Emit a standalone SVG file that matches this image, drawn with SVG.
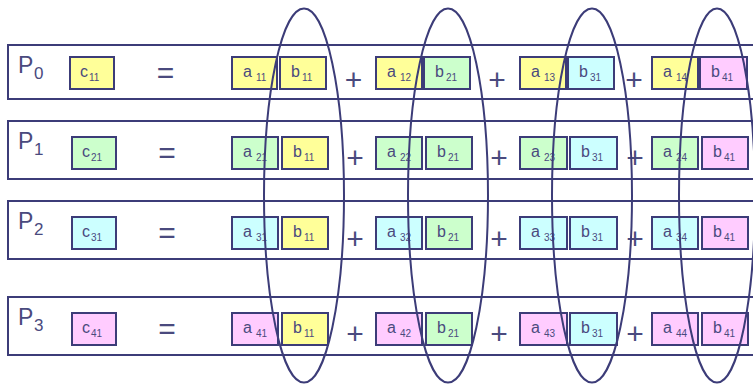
<svg xmlns="http://www.w3.org/2000/svg" width="753" height="384" viewBox="0 0 753 384">
<style>
.row{fill:#fff;stroke:#3c3c78;stroke-width:2}
.bx{stroke:#3c3c78;stroke-width:2}
.y{fill:#ffff99}.g{fill:#ccffcc}.c{fill:#ccffff}.p{fill:#ffccff}
text{font-family:"Liberation Sans",Arial,sans-serif;fill:#4a4a7e}
.pl{font-size:23px}.ps{font-size:17px}
.t{font-size:16px}.s{font-size:10px}
.op{font-size:30px;text-anchor:middle}
.ell{fill:none;stroke:#3c3c78;stroke-width:2}
</style>
<rect width="753" height="384" fill="#fff"/>
<g id="P0">
<rect class="row" x="8" y="45" width="760" height="54"/>
<text x="18" y="73"><tspan class="pl">P</tspan><tspan class="ps" x="34" y="79">0</tspan></text>
<rect class="bx y" x="70" y="57" width="44" height="32"/>
<text x="80" y="77"><tspan class="t">c</tspan><tspan class="s" x="89" y="81">11</tspan></text>
<text class="op" x="165.5" y="83">=</text>
<rect class="bx y" x="232" y="57" width="45" height="32"/><text x="243" y="77"><tspan class="t">a</tspan><tspan class="s" x="256" y="81">11</tspan></text>
<rect class="bx y" x="280" y="57" width="46" height="32"/><text x="291" y="77"><tspan class="t">b</tspan><tspan class="s" x="302" y="81">11</tspan></text>
<text class="op" x="353.5" y="90">+</text>
<rect class="bx y" x="376" y="57" width="46" height="32"/><text x="387" y="77"><tspan class="t">a</tspan><tspan class="s" x="400" y="81">12</tspan></text>
<rect class="bx g" x="424" y="57" width="46" height="32"/><text x="435" y="77"><tspan class="t">b</tspan><tspan class="s" x="446" y="81">21</tspan></text>
<text class="op" x="497" y="90">+</text>
<rect class="bx y" x="520" y="57" width="46" height="32"/><text x="531" y="77"><tspan class="t">a</tspan><tspan class="s" x="544" y="81">13</tspan></text>
<rect class="bx c" x="568" y="57" width="46" height="32"/><text x="579" y="77"><tspan class="t">b</tspan><tspan class="s" x="590" y="81">31</tspan></text>
<text class="op" x="634" y="90">+</text>
<rect class="bx y" x="652" y="57" width="46" height="32"/><text x="663" y="77"><tspan class="t">a</tspan><tspan class="s" x="676" y="81">14</tspan></text>
<rect class="bx p" x="700" y="57" width="47" height="32"/><text x="711" y="77"><tspan class="t">b</tspan><tspan class="s" x="722" y="81">41</tspan></text>
</g>
<g id="P1">
<rect class="row" x="8" y="121" width="760" height="58"/>
<text x="18" y="149"><tspan class="pl">P</tspan><tspan class="ps" x="34" y="155">1</tspan></text>
<rect class="bx g" x="72" y="137" width="44" height="32"/>
<text x="82" y="157"><tspan class="t">c</tspan><tspan class="s" x="91" y="161">21</tspan></text>
<text class="op" x="167" y="163">=</text>
<rect class="bx g" x="232" y="137" width="46" height="32"/><text x="243" y="157"><tspan class="t">a</tspan><tspan class="s" x="256" y="161">21</tspan></text>
<rect class="bx y" x="282" y="137" width="46" height="32"/><text x="293" y="157"><tspan class="t">b</tspan><tspan class="s" x="304" y="161">11</tspan></text>
<text class="op" x="355" y="168">+</text>
<rect class="bx g" x="376" y="137" width="46" height="32"/><text x="387" y="157"><tspan class="t">a</tspan><tspan class="s" x="400" y="161">22</tspan></text>
<rect class="bx g" x="426" y="137" width="46" height="32"/><text x="437" y="157"><tspan class="t">b</tspan><tspan class="s" x="448" y="161">21</tspan></text>
<text class="op" x="499" y="168">+</text>
<rect class="bx g" x="520" y="137" width="47" height="32"/><text x="531" y="157"><tspan class="t">a</tspan><tspan class="s" x="544" y="161">23</tspan></text>
<rect class="bx c" x="570" y="137" width="47" height="32"/><text x="581" y="157"><tspan class="t">b</tspan><tspan class="s" x="592" y="161">31</tspan></text>
<text class="op" x="635" y="168">+</text>
<rect class="bx g" x="652" y="137" width="46" height="32"/><text x="663" y="157"><tspan class="t">a</tspan><tspan class="s" x="676" y="161">24</tspan></text>
<rect class="bx p" x="702" y="137" width="46" height="32"/><text x="713" y="157"><tspan class="t">b</tspan><tspan class="s" x="724" y="161">41</tspan></text>
</g>
<g id="P2">
<rect class="row" x="8" y="201" width="760" height="58"/>
<text x="18" y="229"><tspan class="pl">P</tspan><tspan class="ps" x="34" y="235">2</tspan></text>
<rect class="bx c" x="72" y="217" width="44" height="32"/>
<text x="82" y="237"><tspan class="t">c</tspan><tspan class="s" x="91" y="241">31</tspan></text>
<text class="op" x="167" y="243">=</text>
<rect class="bx c" x="232" y="217" width="46" height="32"/><text x="243" y="237"><tspan class="t">a</tspan><tspan class="s" x="256" y="241">31</tspan></text>
<rect class="bx y" x="282" y="217" width="46" height="32"/><text x="293" y="237"><tspan class="t">b</tspan><tspan class="s" x="304" y="241">11</tspan></text>
<text class="op" x="355" y="249">+</text>
<rect class="bx c" x="376" y="217" width="46" height="32"/><text x="387" y="237"><tspan class="t">a</tspan><tspan class="s" x="400" y="241">32</tspan></text>
<rect class="bx g" x="426" y="217" width="46" height="32"/><text x="437" y="237"><tspan class="t">b</tspan><tspan class="s" x="448" y="241">21</tspan></text>
<text class="op" x="499" y="249">+</text>
<rect class="bx c" x="520" y="217" width="47" height="32"/><text x="531" y="237"><tspan class="t">a</tspan><tspan class="s" x="544" y="241">33</tspan></text>
<rect class="bx c" x="570" y="217" width="47" height="32"/><text x="581" y="237"><tspan class="t">b</tspan><tspan class="s" x="592" y="241">31</tspan></text>
<text class="op" x="635" y="249">+</text>
<rect class="bx c" x="652" y="217" width="46" height="32"/><text x="663" y="237"><tspan class="t">a</tspan><tspan class="s" x="676" y="241">34</tspan></text>
<rect class="bx p" x="702" y="217" width="46" height="32"/><text x="713" y="237"><tspan class="t">b</tspan><tspan class="s" x="724" y="241">41</tspan></text>
</g>
<g id="P3">
<rect class="row" x="8" y="297" width="760" height="58"/>
<text x="18" y="325"><tspan class="pl">P</tspan><tspan class="ps" x="34" y="331">3</tspan></text>
<rect class="bx p" x="72" y="313" width="44" height="32"/>
<text x="82" y="333"><tspan class="t">c</tspan><tspan class="s" x="91" y="337">41</tspan></text>
<text class="op" x="167" y="339">=</text>
<rect class="bx p" x="232" y="313" width="46" height="32"/><text x="243" y="333"><tspan class="t">a</tspan><tspan class="s" x="256" y="337">41</tspan></text>
<rect class="bx y" x="282" y="313" width="46" height="32"/><text x="293" y="333"><tspan class="t">b</tspan><tspan class="s" x="304" y="337">11</tspan></text>
<text class="op" x="355" y="344">+</text>
<rect class="bx p" x="376" y="313" width="46" height="32"/><text x="387" y="333"><tspan class="t">a</tspan><tspan class="s" x="400" y="337">42</tspan></text>
<rect class="bx g" x="426" y="313" width="46" height="32"/><text x="437" y="333"><tspan class="t">b</tspan><tspan class="s" x="448" y="337">21</tspan></text>
<text class="op" x="499" y="344">+</text>
<rect class="bx p" x="520" y="313" width="47" height="32"/><text x="531" y="333"><tspan class="t">a</tspan><tspan class="s" x="544" y="337">43</tspan></text>
<rect class="bx c" x="570" y="313" width="47" height="32"/><text x="581" y="333"><tspan class="t">b</tspan><tspan class="s" x="592" y="337">31</tspan></text>
<text class="op" x="635" y="344">+</text>
<rect class="bx p" x="652" y="313" width="46" height="32"/><text x="663" y="333"><tspan class="t">a</tspan><tspan class="s" x="676" y="337">44</tspan></text>
<rect class="bx p" x="702" y="313" width="46" height="32"/><text x="713" y="333"><tspan class="t">b</tspan><tspan class="s" x="724" y="337">41</tspan></text>
</g>
<g id="connectors">
<ellipse class="ell" cx="304" cy="195.5" rx="40" ry="187"/>
<ellipse class="ell" cx="448" cy="195.5" rx="40" ry="187"/>
<ellipse class="ell" cx="592" cy="195.5" rx="40" ry="187"/>
<ellipse class="ell" cx="717" cy="195.5" rx="38" ry="187"/>
</g>
</svg>
